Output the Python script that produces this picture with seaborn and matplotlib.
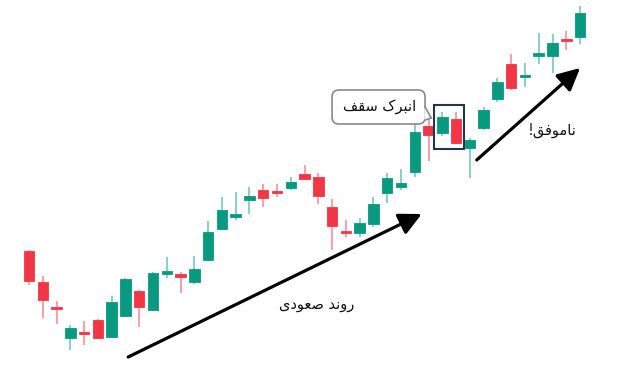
import numpy as np
import pandas as pd
import matplotlib
matplotlib.use("Agg")
import matplotlib.pyplot as plt
import seaborn as sns
from matplotlib.patches import FancyBboxPatch, Rectangle, Polygon

# ---------------- data (price units) ----------------
opens  = [149, 118, 93, 62, 68, 80, 63, 84, 109, 90,
          126, 126, 118, 140, 171, 183, 200, 210, 209, 212,
          226, 223, 193, 169, 167, 176, 207, 213, 228, 274,
          267, 281, 252, 272, 301, 336, 323, 344, 344, 361, 363]
highs  = [150, 124, 99, 75, 79, 81, 104, 122, 110, 128,
          143, 128, 144, 179, 203, 208, 213, 216, 216, 223,
          235, 227, 201, 180, 182, 203, 227, 231, 276, 283,
          288, 288, 262, 293, 322, 346, 337, 367, 366, 369, 394]
lows   = [115, 82, 76, 50, 55, 61, 62, 83, 73, 89,
          122, 107, 116, 139, 170, 180, 186, 193, 203, 210,
          220, 196, 150, 163, 163, 173, 197, 210, 223, 239,
          264, 256, 222, 270, 298, 310, 313, 336, 327, 350, 356]
closes = [119, 100, 91, 72, 66, 62, 98, 121, 93, 127,
          129, 123, 131, 168, 190, 186, 204, 202, 207, 218,
          221, 204, 174, 167, 177, 196, 222, 217, 268, 265,
          283, 257, 260, 290, 318, 312, 325, 347, 357, 359, 387]

trend_label = "روند صعودی"
pattern_label = "انبرک سقف"
fail_label = "ناموفق!"
highlight_idx = [30, 31]

df = pd.DataFrame({"open": opens, "high": highs, "low": lows, "close": closes})
df["i"] = np.arange(len(df))
df["up"] = df["close"] >= df["open"]

GREEN = "#089981"
RED = "#F23645"

# ---------------- simple Arabic/Persian shaping ----------------
FORMS = {  # iso, fin, ini, med
    "\u0627": ("\uFE8D", "\uFE8E", None, None),
    "\u0628": ("\uFE8F", "\uFE90", "\uFE91", "\uFE92"),
    "\u0646": ("\uFEE5", "\uFEE6", "\uFEE7", "\uFEE8"),
    "\u0631": ("\uFEAD", "\uFEAE", None, None),
    "\u062F": ("\uFEA9", "\uFEAA", None, None),
    "\u0648": ("\uFEED", "\uFEEE", None, None),
    "\u06A9": ("\uFB8E", "\uFB8F", "\uFB90", "\uFB91"),
    "\u0633": ("\uFEB1", "\uFEB2", "\uFEB3", "\uFEB4"),
    "\u0642": ("\uFED5", "\uFED6", "\uFED7", "\uFED8"),
    "\u0641": ("\uFED1", "\uFED2", "\uFED3", "\uFED4"),
    "\u0635": ("\uFEB9", "\uFEBA", "\uFEBB", "\uFEBC"),
    "\u0639": ("\uFEC9", "\uFECA", "\uFECB", "\uFECC"),
    "\u06CC": ("\uFBFC", "\uFBFD", "\uFBFE", "\uFBFF"),
    "\u0645": ("\uFEE1", "\uFEE2", "\uFEE3", "\uFEE4"),
}


def shape(text):
    out = []
    n = len(text)
    for k, ch in enumerate(text):
        if ch not in FORMS:
            out.append(ch)
            continue
        f = FORMS[ch]
        prev = text[k - 1] if k > 0 else None
        nxt = text[k + 1] if k < n - 1 else None
        jp = prev in FORMS and FORMS[prev][2] is not None
        jn = f[2] is not None and nxt in FORMS
        if jp and jn:
            out.append(f[3])
        elif jp:
            out.append(f[1])
        elif jn:
            out.append(f[2])
        else:
            out.append(f[0])
    return "".join(out)[::-1]


# ---------------- figure ----------------
sns.set_theme(style="white")
plt.rcParams["font.family"] = ["DejaVu Sans"]

fig = plt.figure(figsize=(6.24, 3.77), dpi=100)
ax = fig.add_axes([0, 0, 1, 1])
ax.set_xlim(-2.105, 43.19)
ax.set_ylim(23, 400)
ax.axis("off")

wick_colors = [GREEN if u else RED for u in df["up"]]
ax.vlines(df["i"], df["low"], df["high"], colors=wick_colors, linewidth=1.2,
          alpha=0.55, zorder=2)
body_bottom = df[["open", "close"]].min(axis=1)
body_h = (df["close"] - df["open"]).abs().clip(lower=2.5)
ax.bar(df["i"], body_h, bottom=body_bottom, width=0.76, color=wick_colors,
       edgecolor=wick_colors, linewidth=0.6, zorder=3)

# highlight rectangle around the pattern
hx0 = min(highlight_idx) - 0.62
hx1 = max(highlight_idx) + 0.55
hy0 = min(lows[j] for j in highlight_idx) - 5
hy1 = max(highs[j] for j in highlight_idx) + 7
ax.add_patch(Rectangle((hx0, hy0), hx1 - hx0, hy1 - hy0, fill=False,
                       edgecolor="#233847", linewidth=1.5, zorder=4))

# arrows
arrow_kw = dict(arrowstyle="-|>,head_length=0.9,head_width=0.45", lw=2.3,
                color="black", shrinkA=0, shrinkB=0, mutation_scale=15)
ax.annotate("", xy=(28.5, 186), xytext=(7.2, 43), arrowprops=arrow_kw, zorder=5)
ax.annotate("", xy=(40.0, 332), xytext=(32.5, 240), arrowprops=arrow_kw, zorder=5)

# labels
ax.text(20.9, 96, shape(trend_label), ha="center", va="center",
        fontsize=10.5, color="#111111", zorder=6)
ax.text(38.0, 270, shape(fail_label), ha="center", va="center",
        fontsize=10.5, color="#111111", zorder=6)

# callout box
fig.canvas.draw()
p0 = ax.transData.transform((0, 0))
p1 = ax.transData.transform((1, 1))
aspect = (p1[0] - p0[0]) / (p1[1] - p0[1])
bx0, bx1, by0, by1 = 22.0, 28.75, 276, 310
ax.add_patch(FancyBboxPatch((bx0, by0), bx1 - bx0, by1 - by0,
                            boxstyle="round,pad=0,rounding_size=0.5",
                            mutation_aspect=aspect, facecolor="white",
                            edgecolor="#8a8a8a", linewidth=1.2, zorder=6))
tail = [(bx1 - 0.05, 293), (bx1 + 0.45, 282), (bx1 - 0.05, 280)]
ax.add_patch(Polygon(tail, closed=True, facecolor="white", edgecolor="none",
                     zorder=7))
ax.plot([bx1, bx1 + 0.45, bx1], [293, 282, 280], color="#8a8a8a", lw=1.2,
        zorder=7, solid_joinstyle="miter")
ax.text((bx0 + bx1) / 2 + 0.05, 293, shape(pattern_label), ha="center",
        va="center", fontsize=10.5, color="#111111", zorder=8)

fig.savefig("out.png", dpi=100, facecolor="white")
